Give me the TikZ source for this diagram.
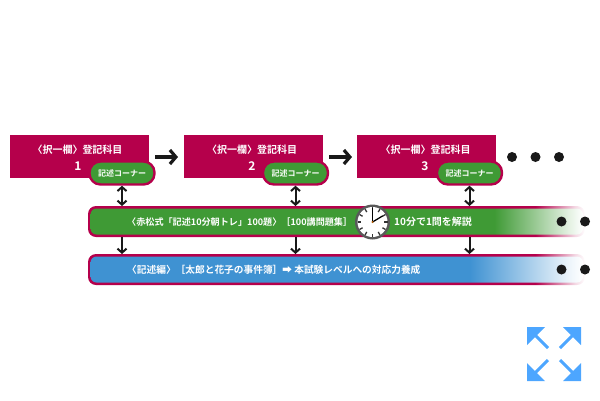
\documentclass[tikz,border=0pt]{standalone}
\usepackage{fontspec}
\setmainfont{Noto Sans CJK JP}[BoldFont={Noto Sans CJK JP Bold}]
\usetikzlibrary{arrows.meta}
\definecolor{crim}{HTML}{B5004B}
\definecolor{grn}{HTML}{3F9A35}
\definecolor{blu}{HTML}{3F92D2}
\definecolor{ico}{HTML}{4DA6FF}
\pgfdeclarehorizontalshading{grnfade}{100bp}{color(0bp)=(grn);color(66bp)=(grn);color(73.5bp)=(grn!15);color(75bp)=(white);color(100bp)=(white)}
\pgfdeclarehorizontalshading{blufade}{100bp}{color(0bp)=(blu);color(63.5bp)=(blu);color(73.5bp)=(blu!10);color(75bp)=(white);color(100bp)=(white)}
\pgfdeclarehorizontalshading{crimfade}{100bp}{color(0bp)=(crim);color(70bp)=(crim);color(74bp)=(crim!15);color(75bp)=(white);color(100bp)=(white)}
\tikzset{
 x=1pt,y=-1pt,
 redbox/.style={fill=crim,draw=none,minimum width=139pt,minimum height=43pt,inner sep=0pt},
 pill/.style={fill=grn,draw=crim,line width=2.4pt,rounded corners=11pt,minimum width=65pt,minimum height=23pt,inner sep=0pt,text=white,font=\bfseries\fontsize{8}{8}\selectfont},
 head/.style={text=white,font=\bfseries\fontsize{10}{10}\selectfont,inner sep=0pt},
 num/.style={text=white,font=\bfseries\fontsize{12}{12}\selectfont,inner sep=0pt},
 bartext/.style={text=white,font=\bfseries\fontsize{#1}{#1}\selectfont,inner sep=0pt,anchor=west},
 link/.style={draw=black!90,line width=2pt,{Straight Barb[length=4pt,width=9pt]}-{Straight Barb[length=4pt,width=9pt]}},
 down/.style={draw=black!90,line width=2pt,-{Straight Barb[length=4pt,width=9pt]}},
 flow/.style={draw=black!90,line width=3.2pt,-{Straight Barb[length=6pt,width=14pt]}},
 dotn/.style={circle,fill=black!90,minimum size=10pt,inner sep=0pt,draw=none},
 icoline/.style={draw=ico,line width=3pt},
}
\begin{document}
\begin{tikzpicture}
\useasboundingbox (0,0) rectangle (600,400);
% bars
\shade[shading=crimfade,rounded corners=8pt] (88,206) rectangle (585,237);
\shade[shading=grnfade,rounded corners=6pt] (90.5,208.5) rectangle (583,234.5);
\shade[shading=crimfade,rounded corners=8pt] (88,254) rectangle (585,285);
\shade[shading=blufade,rounded corners=6pt] (90.5,256.5) rectangle (583,282.5);
% boxes
\node[redbox] (a1) at (79.5,156.5) {};
\node[redbox] (a2) at (253,156.5) {};
\node[redbox] (a3) at (426.5,156.5) {};
\node[head] at (77.5,150) {〈択一欄〉登記科目};
\node[head] at (252,150) {〈択一欄〉登記科目};
\node[head] at (425.5,150) {〈択一欄〉登記科目};
\node[num] at (78,166) {1};
\node[num] at (252,166) {2};
\node[num] at (425,166) {3};
\node[pill] (p1) at (122,173) {記述コーナー};
\node[pill] (p2) at (295.5,173) {記述コーナー};
\node[pill] (p3) at (469.5,173) {記述コーナー};
\coordinate (b1t) at (122,206); \coordinate (b2t) at (295.5,206); \coordinate (b3t) at (469.5,206);
\coordinate (b1m) at (122,237); \coordinate (b2m) at (295.5,237); \coordinate (b3m) at (469.5,237);
\coordinate (c1) at (122,254); \coordinate (c2) at (295.5,254); \coordinate (c3) at (469.5,254);
\draw[link] (p1) -- (b1t);
\draw[link] (p2) -- (b2t);
\draw[link] (p3) -- (b3t);
\draw[down] (b1m) -- (c1);
\draw[down] (b2m) -- (c2);
\draw[down] (b3m) -- (c3);
\draw[flow] (155,157) -- (178,157);
\draw[flow] (329,157) -- (352,157);
% dots
\node[dotn] at (512,157) {}; \node[dotn] at (535.5,157) {}; \node[dotn] at (559,157) {};
\node[dotn] at (561.5,221.5) {}; \node[dotn] at (585,221.5) {};
\node[dotn] at (561.5,269.5) {}; \node[dotn] at (585,269.5) {};
% bar text
\node[bartext=9.1] at (127,222) {〈赤松式「記述10分朝トレ」100題〉［100講問題集］};
\node[bartext=10] at (394,222) {10分で1問を解説};
\node[bartext=9.7] at (127,270) {〈記述編〉［太郎と花子の事件簿］➡ 本試験レベルへの対応力養成};
% clock
\fill[black!65] (372.5,222) circle (17.5);
\fill[white] (372.5,222) circle (15);
\foreach \a in {0,30,...,330} \draw[black!80,line width=1.3pt] (372.5,222) ++(\a:15) -- ++(\a:-3.5);
\draw[black,line width=1pt] (372.5,222) -- ++(0,-14);
\draw[black,line width=1.3pt] (372.5,222) -- ++(10,-6);
\fill[orange!70!black] (372.5,222) circle (1.2);
% icon
\fill[ico] (527,327) -- (545,327) -- (527,345) -- cycle;
\fill[ico] (581,327) -- (563,327) -- (581,345) -- cycle;
\fill[ico] (527,381) -- (545,381) -- (527,363) -- cycle;
\fill[ico] (581,381) -- (563,381) -- (581,363) -- cycle;
\draw[icoline] (535,335) -- (548,348);
\draw[icoline] (573,335) -- (560,348);
\draw[icoline] (535,373) -- (548,360);
\draw[icoline] (573,373) -- (560,360);
\end{tikzpicture}
\end{document}
